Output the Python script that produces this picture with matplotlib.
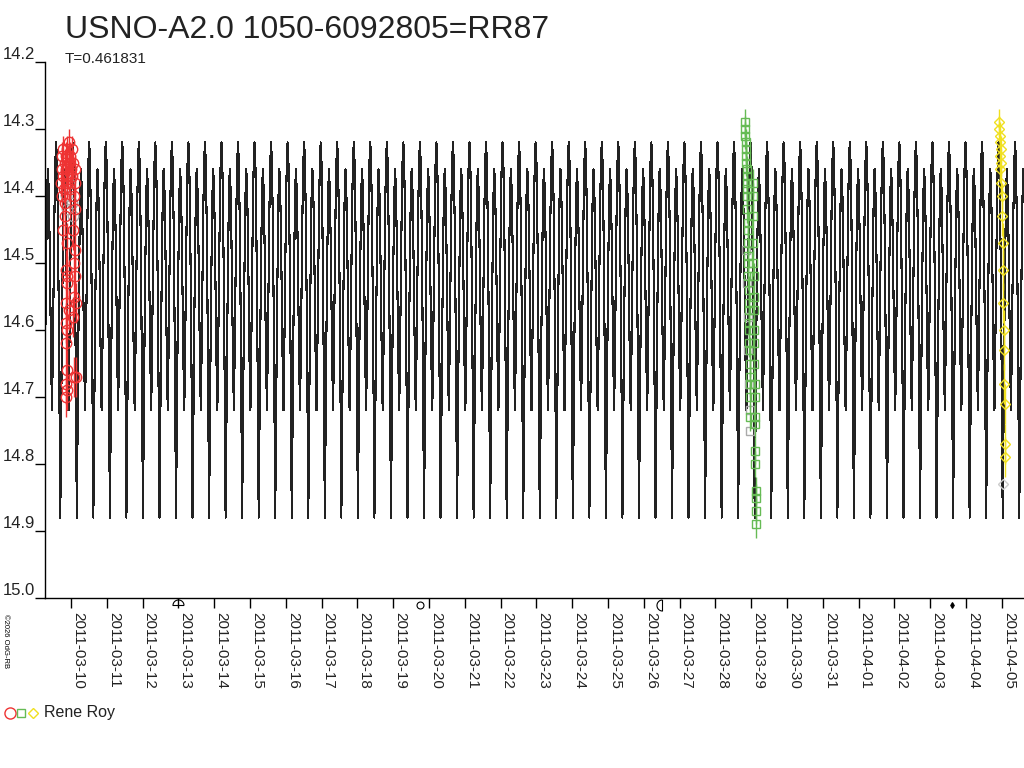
import numpy as np
import pandas as pd
import matplotlib
matplotlib.use('Agg')
import matplotlib.pyplot as plt
from matplotlib.lines import Line2D

plt.rcParams['font.family'] = ['Liberation Sans', 'DejaVu Sans']

# x values are days counted from 2011-03-10 00:00
tick_labels = [d.strftime('%Y-%m-%d') for d in pd.date_range('2011-03-10', '2011-04-05')]

# ephemeris of the model curve
period = 0.461831
epoch_min = 6.628          # a primary minimum
phase = [0.00, 0.05, 0.10, 0.15, 0.20, 0.25, 0.30, 0.35, 0.40, 0.45,
         0.50, 0.55, 0.60, 0.65, 0.70, 0.75, 0.80, 0.85, 0.90, 0.95]
phase_mag = [14.88, 14.74, 14.60, 14.49, 14.40, 14.36, 14.39, 14.46, 14.56, 14.65,
             14.72, 14.63, 14.52, 14.42, 14.35, 14.32, 14.35, 14.43, 14.55, 14.70]

# Rene Roy, night 1 (circles) - days from 2011-03-10
red_t = [-0.28, -0.26, -0.25, -0.24, -0.22, -0.21, -0.20, -0.18, -0.17, -0.15,
         -0.13, -0.12, -0.10, -0.08, -0.06, -0.05, -0.03, -0.02, 0.00, 0.02,
         0.04, 0.06, 0.08, 0.10, 0.12, -0.22, -0.18, -0.12, 0.05, 0.10,
         0.12, 0.10, -0.15, -0.10, 0.08, -0.13, -0.05, 0.14, -0.14, -0.12,
         0.05, -0.13, -0.12, -0.13, 0.08, 0.14, -0.13, -0.12, -0.11, 0.09]
red_mag = [14.38, 14.36, 14.40, 14.34, 14.37, 14.33, 14.39, 14.35, 14.41, 14.36,
           14.34, 14.38, 14.33, 14.37, 14.32, 14.35, 14.39, 14.34, 14.36, 14.33,
           14.37, 14.35, 14.40, 14.38, 14.36, 14.45, 14.43, 14.47, 14.45, 14.42,
           14.48, 14.52, 14.51, 14.53, 14.55, 14.56, 14.57, 14.56, 14.59, 14.60,
           14.58, 14.62, 14.66, 14.68, 14.67, 14.67, 14.70, 14.69, 14.52, 14.50]
red_err = [0.02] * 25 + [0.03] * 25

# night 2 (squares) - days from 2011-03-10
green_t = [18.83, 18.84, 18.84, 18.85, 18.85, 18.86, 18.86, 18.87, 18.87, 18.88,
           18.88, 18.89, 18.89, 18.90, 18.90, 18.91, 18.91, 18.92, 18.92, 18.93,
           18.93, 18.94, 18.94, 18.95, 18.95, 18.96, 18.96, 18.97, 18.97, 18.98,
           18.98, 19.04, 19.05, 19.05, 19.06, 19.06, 19.07, 19.07, 19.08, 19.08,
           19.09, 19.09, 19.10, 19.10, 19.11, 19.11, 19.12, 19.12, 19.13, 19.13,
           19.14, 19.14]
green_mag = [14.29, 14.30, 14.31, 14.32, 14.33, 14.34, 14.35, 14.36, 14.37, 14.38,
             14.39, 14.40, 14.42, 14.44, 14.45, 14.47, 14.49, 14.50, 14.52, 14.54,
             14.56, 14.57, 14.59, 14.60, 14.62, 14.63, 14.65, 14.67, 14.68, 14.70,
             14.73, 14.38, 14.40, 14.43, 14.47, 14.50, 14.52, 14.55, 14.57, 14.60,
             14.62, 14.65, 14.68, 14.70, 14.73, 14.74, 14.78, 14.80, 14.84, 14.85,
             14.87, 14.89]
green_err = [0.02] * 52

# night 3 (diamonds) - days from 2011-03-10
yellow_t = [25.92, 25.93, 25.94, 25.95, 25.95, 25.96, 25.97, 25.98, 25.99, 26.00,
            26.01, 26.02, 26.03, 26.04, 26.05, 26.06, 26.07, 26.08, 26.09, 26.10]
yellow_mag = [14.30, 14.29, 14.32, 14.34, 14.31, 14.36, 14.33, 14.38, 14.35, 14.40,
              14.43, 14.47, 14.51, 14.56, 14.60, 14.63, 14.68, 14.71, 14.77, 14.79]
yellow_err = [0.02] * 10 + [0.03] * 10

# comparison / check values (grey)
grey_circ_t = [-0.14, -0.10, -0.06, 0.02, 0.06]
grey_circ_mag = [14.40, 14.42, 14.38, 14.41, 14.43]
grey_sq_t = [18.86, 18.88, 18.90, 18.92, 18.94, 18.96, 18.97]
grey_sq_mag = [14.48, 14.53, 14.58, 14.63, 14.68, 14.72, 14.75]
grey_dia_t = [26.02]
grey_dia_mag = [14.83]

# moon phases (first quarter, full, last quarter, new)
moon_t = [2.99, 9.76, 16.50, 24.61]

fig = plt.figure(figsize=(10.24, 7.68), dpi=100)
ax = fig.add_axes([45 / 1024, 1 - 598 / 768, 1 - 45 / 1024, 536 / 768])

# model light curve
t0 = -0.726
t1 = 26.62
n0 = int(np.floor((t0 - epoch_min) / period)) - 1
n1 = int(np.ceil((t1 - epoch_min) / period)) + 1
cyc = np.arange(n0, n1)
mt = (epoch_min + (cyc[:, None] + np.array(phase)[None, :]) * period).ravel()
mm = np.tile(phase_mag, len(cyc))
ax.plot(mt, mm, color='#222222', lw=0.8, antialiased=False, zorder=2)

red = '#ee3333'
green = '#66bb55'
yellow = '#f0e020'
grey = '#aaaaaa'

ax.plot(grey_circ_t, grey_circ_mag, 'o', ms=7.5, mfc='none', mec=grey, mew=1, zorder=3)
ax.plot(grey_sq_t, grey_sq_mag, 's', ms=5.5, mfc='none', mec=grey, mew=1, zorder=3)
ax.plot(grey_dia_t, grey_dia_mag, 'D', ms=5, mfc='none', mec='#cccccc', mew=1, zorder=3)

ax.errorbar(red_t, red_mag, yerr=red_err, fmt='o', ms=7.5, mfc='none', mec=red,
            mew=1, ecolor=red, elinewidth=1, capsize=0, zorder=4)
ax.errorbar(green_t, green_mag, yerr=green_err, fmt='s', ms=5.5, mfc='none', mec=green,
            mew=1, ecolor=green, elinewidth=1, capsize=0, zorder=4)
ax.errorbar(yellow_t, yellow_mag, yerr=yellow_err, fmt='D', ms=5, mfc='none', mec=yellow,
            mew=1, ecolor=yellow, elinewidth=1, capsize=0, zorder=4)

# moon symbols just below the axis
arc = np.linspace(0, np.pi, 13)
dome = np.column_stack([np.cos(arc), np.sin(arc)])
dome = np.vstack([dome, dome[:1]])
left_half = np.column_stack([-dome[:, 1], dome[:, 0]])
moon_marks = [dome, 'o', left_half, 'd']
moon_sizes = [8, 5, 8, 3]
for t, mk, s in zip(moon_t, moon_marks, moon_sizes):
    ax.plot([t], [15.01], marker=mk, ms=s, mfc='none' if isinstance(mk, np.ndarray) or mk == 'o' else 'black',
            mec='black', mew=0.8, clip_on=False, zorder=5)

ax.set_xlim(t0, t1)
ax.set_ylim(15.0, 14.2)

ax.set_yticks([14.2, 14.3, 14.4, 14.5, 14.6, 14.7, 14.8, 14.9, 15.0])
ax.set_yticklabels(['14.2', '14.3', '14.4', '14.5', '14.6', '14.7', '14.8', '14.9', '15.0'],
                   fontsize=12, color='#222222', va='bottom')
ax.set_xticks(np.arange(len(tick_labels)))
ax.set_xticklabels(tick_labels, rotation=-90, fontsize=11, color='#222222',
                   ha='left', va='top')
ax.tick_params(axis='both', direction='out', length=7, width=1, color='black')
ax.tick_params(axis='y', pad=0)
ax.tick_params(axis='x', pad=3)
for s in ['top', 'right']:
    ax.spines[s].set_visible(False)
ax.spines['left'].set_linewidth(1)
ax.spines['bottom'].set_linewidth(1)
ax.patch.set_visible(False)

fig.text(65 / 1024, 1 - 38 / 768, 'USNO-A2.0 1050-6092805=RR87', fontsize=23,
         color='#222222', ha='left', va='baseline')
fig.text(65 / 1024, 1 - 63 / 768, 'T=0.461831', fontsize=11, color='#222222',
         ha='left', va='baseline')

# legend at the bottom
fig.add_artist(Line2D([10 / 1024], [1 - 713 / 768], marker='o', ms=8, mfc='none',
                      mec=red, mew=1, transform=fig.transFigure))
fig.add_artist(Line2D([21 / 1024], [1 - 713 / 768], marker='s', ms=6, mfc='none',
                      mec=green, mew=1, transform=fig.transFigure))
fig.add_artist(Line2D([33 / 1024], [1 - 713 / 768], marker='D', ms=5, mfc='none',
                      mec=yellow, mew=1, transform=fig.transFigure))
fig.text(44 / 1024, 1 - 713 / 768, 'Rene Roy', fontsize=11.5, color='#222222',
         ha='left', va='center')

fig.text(2 / 1024, 1 - 614 / 768, '\u00a92026 OdG-RB', fontsize=5.5, rotation=-90,
         ha='left', va='top', color='black')

fig.savefig('out.png', dpi=100)
